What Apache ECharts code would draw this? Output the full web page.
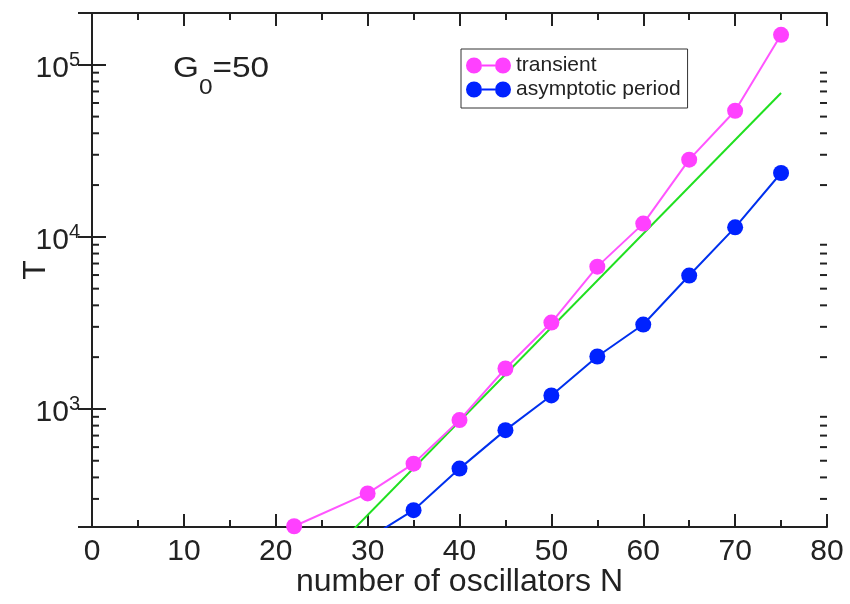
<!DOCTYPE html>
<html>
<head>
<meta charset="utf-8">
<script src="https://cdn.jsdelivr.net/npm/echarts@6/dist/echarts.min.js"></script>
<style>
  html, body { margin: 0; padding: 0; background: #ffffff; }
  #chart { width: 850px; height: 604px; }
</style>
</head>
<body>
<div id="chart"></div>
<script>
// Transient length and asymptotic period versus number of oscillators (G0 = 50)
const transientN = [22, 30, 35, 40, 45, 50, 55, 60, 65, 70, 75];
const transientT = [208, 323, 481, 861, 1718, 3178, 6714, 11940, 28100, 54070, 149300];

const periodN = [30, 35, 40, 45, 50, 55, 60, 65, 70, 75];
const periodT = [176, 258, 450, 753, 1198, 2018, 3094, 5960, 11360, 23500];

// exponential fit, straight on the log scale
const fitN = [28, 75];
const fitT = [188, 68500];

// axis ranges and tick steps
const xRange = [0, 80];
const xStep = 10;
const yRange = [206, 200000];
const yDecades = [100, 1000, 10000, 100000];
const yMinorSteps = [2, 3, 4, 5, 6, 7, 8, 9];

const FONT = 'Liberation Sans, Arial, Helvetica, sans-serif';
const INK = '#222222';

const pairs = (xs, ys) => xs.map((x, i) => [x, ys[i]]);

const yMinorValues = [];
yDecades.forEach(d => yMinorSteps.forEach(m => {
  const v = d * m;
  if (v > yRange[0] && v < yRange[1]) yMinorValues.push(v);
}));

const powerLabel = v => {
  const e = Math.round(Math.log10(v));
  return Math.abs(Math.log10(v) - e) < 1e-6 ? '{b|10}{s|' + e + '}' : '';
};

const twoDots = 'path://M0,8 A8,8 0 1,1 16,8 A8,8 0 1,1 0,8 Z M29,8 A8,8 0 1,1 45,8 A8,8 0 1,1 29,8 Z M16,7 L29,7 L29,9 L16,9 Z';

const axisLine = { show: true, lineStyle: { color: INK, width: 2 } };

const xAxisBase = {
  type: 'value',
  min: xRange[0],
  max: xRange[1],
  interval: xStep,
  axisLine: axisLine,
  axisTick: { show: true, inside: true, length: 13, lineStyle: { color: INK, width: 2 } },
  minorTick: { show: true, splitNumber: 2, length: 7, lineStyle: { color: INK, width: 2 } },
  splitLine: { show: false },
  minorSplitLine: { show: false }
};

const yAxisBase = {
  type: 'log',
  logBase: 10,
  min: yRange[0],
  max: yRange[1],
  axisLine: axisLine,
  axisTick: { show: true, inside: true, length: 14, lineStyle: { color: INK, width: 2 } },
  splitLine: { show: false }
};

const chart = echarts.init(document.getElementById('chart'), null, { renderer: 'canvas' });

chart.setOption({
  animation: false,
  backgroundColor: '#ffffff',
  grid: { left: 92, right: 23, top: 13, bottom: 77, containLabel: false, outerBoundsMode: 'none' },
  xAxis: [
    Object.assign({}, xAxisBase, {
      position: 'bottom',
      name: 'number of oscillators N',
      nameLocation: 'middle',
      nameGap: 39,
      nameMoveOverlap: false,
      nameTextStyle: { fontFamily: FONT, fontSize: 32, color: INK },
      axisLabel: { show: true, margin: 10, fontFamily: FONT, fontSize: 30, color: INK }
    }),
    Object.assign({}, xAxisBase, {
      position: 'top',
      axisLabel: { show: false }
    })
  ],
  yAxis: [
    Object.assign({}, yAxisBase, {
      position: 'left',
      name: 'T',
      nameLocation: 'middle',
      nameRotate: 90,
      nameGap: 40,
      nameMoveOverlap: false,
      nameTextStyle: { fontFamily: FONT, fontSize: 32, color: INK },
      axisLabel: {
        show: true,
        margin: 12,
        formatter: powerLabel,
        rich: {
          b: { fontFamily: FONT, fontSize: 30, lineHeight: 30, color: INK, padding: [8, 0, 0, 0] },
          s: { fontFamily: FONT, fontSize: 20, lineHeight: 20, color: INK, verticalAlign: 'top', padding: [1, 0, 0, 0] }
        }
      }
    }),
    Object.assign({}, yAxisBase, {
      position: 'right',
      axisLabel: { show: false }
    })
  ],
  legend: {
    show: true,
    orient: 'vertical',
    left: 461,
    top: 49,
    padding: [6, 7, 8, 5],
    itemGap: 3,
    itemWidth: 45,
    itemHeight: 16,
    itemTextGap: 9,
    borderColor: '#333333',
    borderWidth: 1,
    borderRadius: 0,
    backgroundColor: '#ffffff',
    textStyle: { fontFamily: FONT, fontSize: 21, lineHeight: 20, color: INK },
    data: [
      { name: 'transient', icon: twoDots },
      { name: 'asymptotic period', icon: twoDots }
    ]
  },
  graphic: [
    {
      type: 'text',
      left: 173,
      top: 54,
      scaleX: 1.11,
      style: {
        text: '{g|G}{sub|0}{g|=50}',
        rich: {
          g: { fontFamily: FONT, fontSize: 30, lineHeight: 30, fill: INK, verticalAlign: 'top' },
          sub: { fontFamily: FONT, fontSize: 22, lineHeight: 22, fill: INK, verticalAlign: 'top', padding: [23, 0, 0, 0] }
        }
      }
    }
  ],
  series: [
    {
      name: 'fit',
      type: 'line',
      data: pairs(fitN, fitT),
      showSymbol: false,
      symbol: 'none',
      clip: true,
      lineStyle: { color: '#20e020', width: 2 },
      z: 2
    },
    {
      name: 'asymptotic period',
      type: 'line',
      data: pairs(periodN, periodT),
      symbol: 'circle',
      symbolSize: 16,
      clip: true,
      itemStyle: { color: '#0022ff' },
      lineStyle: { color: '#0030ee', width: 2 },
      z: 3
    },
    {
      name: 'transient',
      type: 'line',
      data: pairs(transientN, transientT),
      symbol: 'circle',
      symbolSize: 16,
      clip: true,
      itemStyle: { color: '#ff40ff' },
      lineStyle: { color: '#ff55ff', width: 2 },
      z: 4
    },
    {
      // minor ticks of the log axis, on the left and right frame
      name: 'yMinorTicks',
      type: 'custom',
      silent: true,
      clip: false,
      z: 6,
      data: yMinorValues.map(v => [xRange[0], v]),
      renderItem: function (params, api) {
        const v = api.value(1);
        const l = api.coord([xRange[0], v]);
        const r = api.coord([xRange[1], v]);
        return {
          type: 'group',
          children: [
            { type: 'line', shape: { x1: l[0], y1: l[1], x2: l[0] + 7, y2: l[1] }, style: { stroke: INK, lineWidth: 2 } },
            { type: 'line', shape: { x1: r[0], y1: r[1], x2: r[0] - 7, y2: r[1] }, style: { stroke: INK, lineWidth: 2 } }
          ]
        };
      }
    }
  ]
});
</script>
</body>
</html>
